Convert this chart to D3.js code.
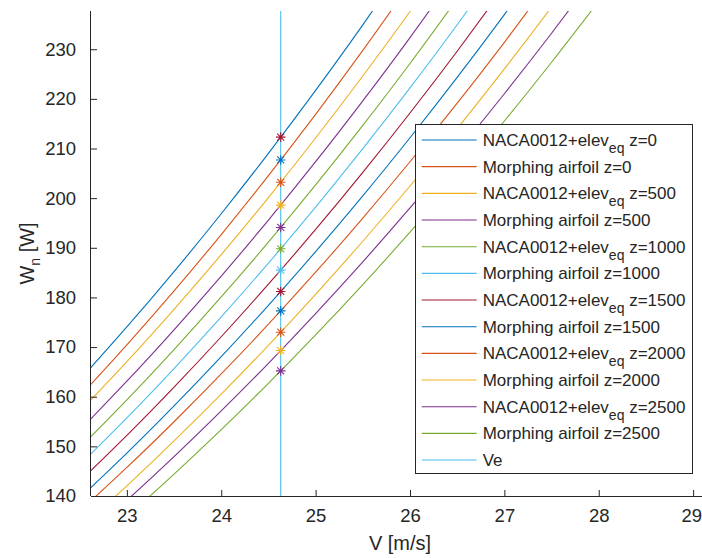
<!DOCTYPE html>
<html>
<head>
<meta charset="utf-8">
<script src="https://cdn.jsdelivr.net/npm/d3@7"></script>
<style>
  html, body { margin: 0; padding: 0; background: #fff; }
  svg { display: block; }
  text { font-family: "Liberation Sans", Arial, Helvetica, sans-serif; fill: #262626; }
</style>
</head>
<body>
<svg id="chart" width="702" height="558"></svg>
<script>
// ---- data ----
const V = [22.5, 23.0, 23.5, 24.0, 24.5, 25.0, 25.5, 26.0, 26.5, 27.0, 27.5, 28.0];

const naca_z0      = [163.37, 174.05, 185.20, 196.86, 209.02, 221.70, 234.90, 248.63];
const morph_z0     = [160.02, 170.43, 181.30, 192.67, 204.53, 216.89, 229.76, 243.15];
const naca_z500    = [156.97, 167.06, 177.61, 188.62, 200.12, 212.11, 224.60, 237.59, 251.11];
const morph_z500   = [153.21, 163.12, 173.48, 184.29, 195.58, 207.34, 219.60, 232.35, 245.62];
const naca_z1000   = [149.68, 159.38, 169.51, 180.10, 191.14, 202.66, 214.66, 227.13, 240.11];
const morph_z1000  = [146.23, 155.74, 165.68, 176.07, 186.91, 198.20, 209.96, 222.20, 234.92, 248.14];
const naca_z1500   = [142.92, 152.21, 161.93, 172.08, 182.67, 193.70, 205.20, 217.16, 229.60, 242.52];
const morph_z1500  = [139.54, 148.63, 158.14, 168.07, 178.42, 189.23, 200.46, 212.17, 224.33, 236.98, 250.10];
const naca_z2000   = [136.94, 145.75, 154.96, 164.58, 174.62, 185.08, 195.99, 207.33, 219.13, 231.39, 244.12];
const morph_z2000  = [133.40, 142.04, 151.09, 160.52, 170.36, 180.63, 191.32, 202.45, 214.01, 226.04, 238.51, 251.46];
const naca_z2500   = [130.69, 139.12, 147.92, 157.13, 166.73, 176.75, 187.17, 198.02, 209.30, 221.03, 233.21, 245.84];
const morph_z2500  = [127.66, 135.85, 144.42, 153.37, 162.71, 172.44, 182.58, 193.15, 204.13, 215.54, 227.38, 239.67];

const seriesValues = [naca_z0, morph_z0, naca_z500, morph_z500, naca_z1000, morph_z1000,
                      naca_z1500, morph_z1500, naca_z2000, morph_z2000, naca_z2500, morph_z2500];
const seriesNames = [
  ["NACA0012+elev", "eq", " z=0"], ["Morphing airfoil z=0"],
  ["NACA0012+elev", "eq", " z=500"], ["Morphing airfoil z=500"],
  ["NACA0012+elev", "eq", " z=1000"], ["Morphing airfoil z=1000"],
  ["NACA0012+elev", "eq", " z=1500"], ["Morphing airfoil z=1500"],
  ["NACA0012+elev", "eq", " z=2000"], ["Morphing airfoil z=2000"],
  ["NACA0012+elev", "eq", " z=2500"], ["Morphing airfoil z=2500"],
  ["Ve"]
];

const Ve = 24.63;
const markerW = [212.3, 207.7, 203.2, 198.6, 194.1, 189.8, 185.5, 181.2, 177.3, 173.0, 169.3, 165.2];

const xTicks = [23, 24, 25, 26, 27, 28, 29];
const yTicks = [140, 150, 160, 170, 180, 190, 200, 210, 220, 230];

const colors = ["#0072BD", "#D95319", "#EDB120", "#7E2F8E", "#77AC30", "#4DBEEE", "#A2142F"];

// ---- layout ----
const pL = 91, pR = 712, pT = 11, pB = 496;
const svg = d3.select("#chart");

const x = d3.scaleLinear().domain([22.62, 29.2]).range([pL, pR]);
const y = d3.scaleLinear().domain([140, 237.7]).range([pB, pT]);

svg.append("defs").append("clipPath").attr("id", "plotclip")
  .append("rect").attr("x", pL).attr("y", pT).attr("width", pR - pL).attr("height", pB - pT);

const plot = svg.append("g").attr("clip-path", "url(#plotclip)");

const line = d3.line().x(d => x(d[0])).y(d => y(d[1])).curve(d3.curveNatural);

seriesValues.forEach((vals, i) => {
  const pts = vals.map((w, k) => [V[k], w]);
  plot.append("path").datum(pts)
    .attr("d", line)
    .attr("fill", "none")
    .attr("stroke", colors[i % 7])
    .attr("stroke-width", 1.1);
});

// Ve vertical line (13th series)
plot.append("line")
  .attr("x1", x(Ve)).attr("x2", x(Ve))
  .attr("y1", y(237.7)).attr("y2", y(140))
  .attr("stroke", colors[12 % 7]).attr("stroke-width", 1.1);

// star markers (series 14..25)
const r = 4.8, rd = 3.5;
const starPath = `M${-r},0L${r},0M0,${-r}L0,${r}M${-rd},${-rd}L${rd},${rd}M${-rd},${rd}L${rd},${-rd}`;
markerW.forEach((w, i) => {
  plot.append("path")
    .attr("transform", `translate(${x(Ve)},${y(w)})`)
    .attr("d", starPath)
    .attr("fill", "none")
    .attr("stroke", colors[(13 + i) % 7])
    .attr("stroke-width", 1.1);
});

// ---- axes ----
const axisColor = "#262626";
const xAxis = d3.axisBottom(x).tickValues(xTicks).tickSizeInner(-6).tickSizeOuter(0).tickPadding(13).tickFormat(d3.format("d"));
const gx = svg.append("g").attr("transform", `translate(0,${pB})`).call(xAxis);
gx.select(".domain").attr("stroke", axisColor).attr("d", `M${pL},0.5H${pR}`);
gx.selectAll(".tick line").attr("stroke", axisColor);
gx.selectAll(".tick text").attr("font-size", "18.5px").attr("fill", axisColor)
  .style("font-family", "'Liberation Sans', Arial, sans-serif");
// keep the last tick label (at the window edge) fully inside the picture
gx.selectAll(".tick text").filter(d => d === 29).attr("text-anchor", "end").attr("x", 8.5);

const yAxis = d3.axisLeft(y).tickValues(yTicks).tickSizeInner(-6).tickSizeOuter(0).tickPadding(15).tickFormat(d3.format("d"));
const gy = svg.append("g").attr("transform", `translate(${pL},0)`).call(yAxis);
gy.select(".domain").attr("stroke", axisColor).attr("d", `M-0.5,${pT}V${pB}`);
gy.selectAll(".tick line").attr("stroke", axisColor);
gy.selectAll(".tick text").attr("font-size", "18.5px").attr("fill", axisColor)
  .style("font-family", "'Liberation Sans', Arial, sans-serif");

// axis labels
svg.append("text")
  .attr("x", 400).attr("y", 550)
  .attr("text-anchor", "middle")
  .attr("font-size", "20px")
  .text("V [m/s]");

const yl = svg.append("text")
  .attr("transform", `translate(33.5,${(pT + pB) / 2}) rotate(-90)`)
  .attr("text-anchor", "middle")
  .attr("font-size", "20px");
yl.append("tspan").text("W");
yl.append("tspan").attr("font-size", "14px").attr("dy", 6).text("n");
yl.append("tspan").attr("dy", -6).text(" [W]");

// ---- legend ----
const lg = svg.append("g");
lg.append("rect")
  .attr("x", 415.5).attr("y", 124.5).attr("width", 277).attr("height", 349)
  .attr("fill", "#fff").attr("stroke", axisColor).attr("stroke-width", 1);

seriesNames.forEach((parts, i) => {
  const ry = 140 + i * 26.67;
  lg.append("line")
    .attr("x1", 421.7).attr("x2", 476.7).attr("y1", ry).attr("y2", ry)
    .attr("stroke", colors[i % 7]).attr("stroke-width", 1.1);
  const t = lg.append("text").attr("x", 482.7).attr("y", ry + 6).attr("font-size", "17px");
  if (parts.length === 1) {
    t.text(parts[0]);
  } else {
    t.append("tspan").text(parts[0]);
    t.append("tspan").attr("font-size", "14px").attr("dy", 7).text(parts[1]);
    t.append("tspan").attr("dy", -7).text(parts[2]);
  }
});
</script>
</body>
</html>
